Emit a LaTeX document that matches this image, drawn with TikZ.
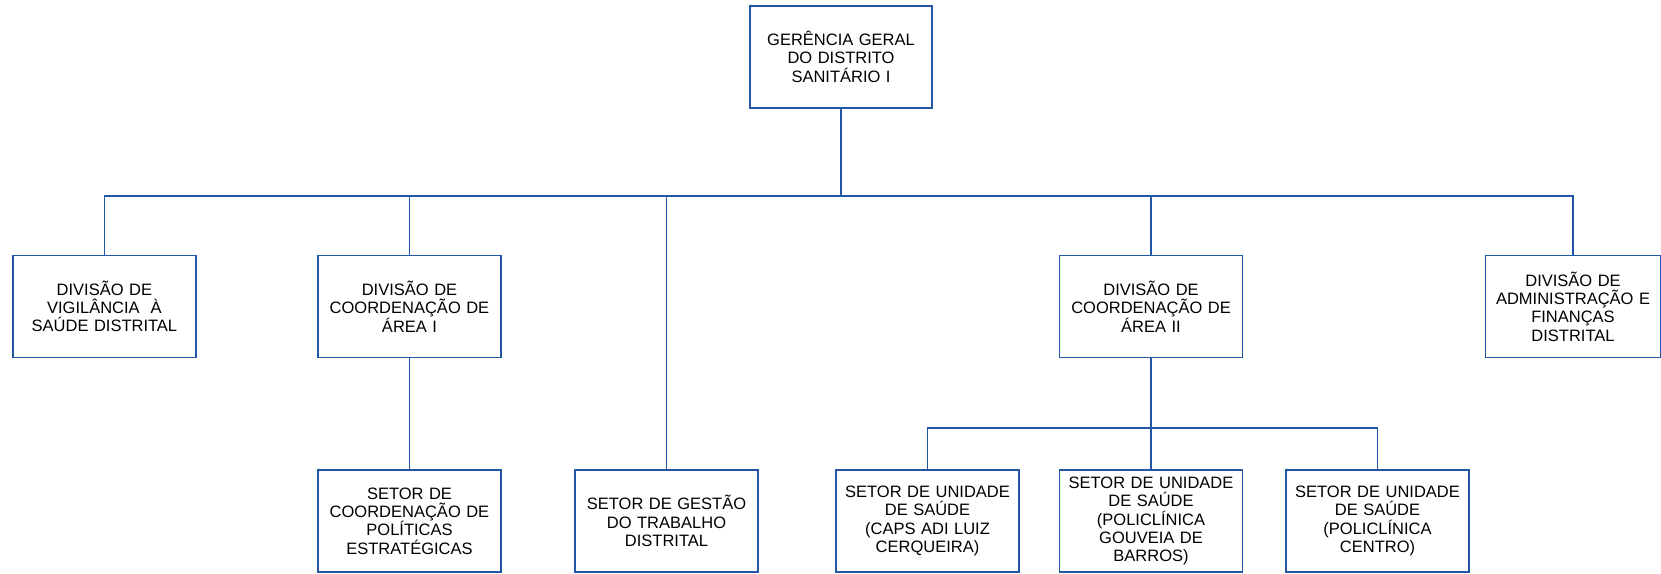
\documentclass[tikz,border=0pt]{standalone}
\usepackage{fontspec}
\setmainfont{Liberation Sans}
\usepackage{tikz}
\definecolor{azul}{HTML}{2157A6}
\tikzstyle{caixa}=[rectangle, draw=azul, line width=1.8pt, inner sep=2pt, minimum width=183pt, minimum height=102pt, text width=179pt, align=center, font=\fontsize{16.5}{18.3}\selectfont]
\tikzstyle{ligacao}=[draw=azul, line width=1.8pt]

\begin{document}
\begin{tikzpicture}[x=1pt, y=-1pt]
				\useasboundingbox (0,0) rectangle (1661,573);
				\node[caixa, minimum width=182pt, text width=178pt] (ger) at (841,56.75) {GERÊNCIA GERAL\\DO DISTRITO\\SANITÁRIO I};
				\node[caixa] (vig) at (104.4,306.5) {DIVISÃO DE\\VIGILÂNCIA\ \ À\\SAÚDE DISTRITAL};
				\node[caixa] (are1) at (409.5,306.5) {DIVISÃO DE\\COORDENAÇÃO DE\\ÁREA I};
				\node[caixa] (are2) at (1151,306.5) {DIVISÃO DE\\COORDENAÇÃO DE\\ÁREA II};
				\node[caixa, minimum width=175pt, text width=171pt] (adm) at (1573,306.5) {DIVISÃO DE\\ADMINISTRAÇÃO E\\FINANÇAS\\DISTRITAL};
				\node[caixa] (pol) at (409.5,521) {SETOR DE\\COORDENAÇÃO DE\\POLÍTICAS\\ESTRATÉGICAS};
				\node[caixa] (ges) at (666.5,521) {SETOR DE GESTÃO\\DO TRABALHO\\DISTRITAL};
				\node[caixa] (caps) at (927.5,521) {SETOR DE UNIDADE\\DE SAÚDE\\(CAPS ADI LUIZ\\CERQUEIRA)};
				\node[caixa] (gou) at (1151,521) {SETOR DE UNIDADE\\DE SAÚDE\\(POLICLÍNICA\\GOUVEIA DE\\BARROS)};
				\node[caixa] (cen) at (1377.5,521) {SETOR DE UNIDADE\\DE SAÚDE\\(POLICLÍNICA\\CENTRO)};
				\coordinate (bar1) at (841,196);
				\coordinate (bar2) at (1151,428);
				\draw[ligacao] (ger) -- (bar1);
				\draw[ligacao] (vig.north) |- (bar1) -| (adm.north);
				\draw[ligacao] (are1.north) -- (are1.north |- bar1);
				\draw[ligacao] (ges.north) -- (ges.north |- bar1);
				\draw[ligacao] (are2.north) -- (are2.north |- bar1);
				\draw[ligacao] (are1) -- (pol);
				\draw[ligacao] (are2) -- (gou);
				\draw[ligacao] (caps.north) |- (bar2) -| (cen.north);
			\end{tikzpicture}
\end{document}
